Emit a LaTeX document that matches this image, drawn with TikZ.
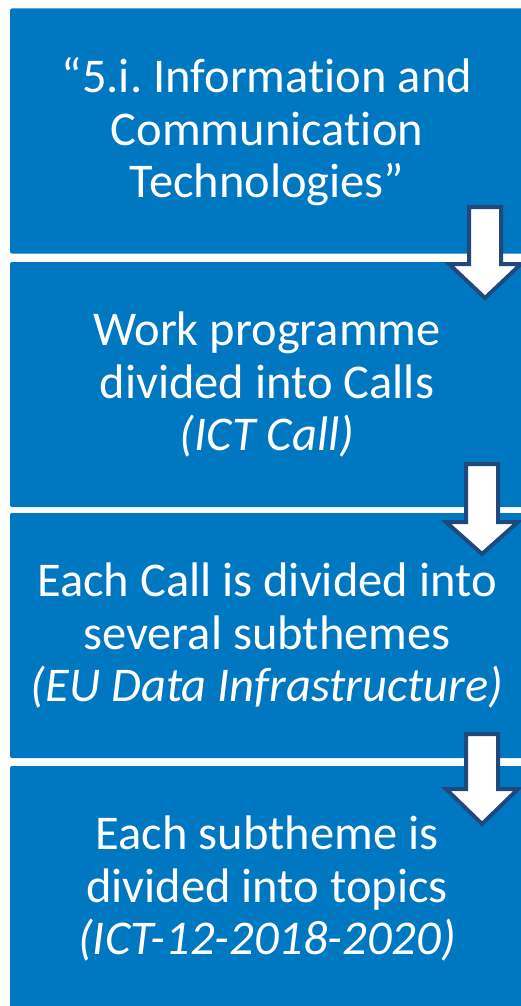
\documentclass[tikz,border=0pt]{standalone}
\usepackage{fontspec}
\setmainfont[Ligatures=NoCommon]{Carlito}
\frenchspacing
\definecolor{boxblue}{RGB}{0,119,193}
\definecolor{navy}{RGB}{31,73,125}
\tikzset{
  stagebox/.style={fill=boxblue, draw=none, rounded corners=2pt, minimum width=515pt, minimum height=245pt, inner sep=0pt},
  stagetext/.style={text=white, align=center, font=\fontsize{48.5pt}{52.5pt}\selectfont, inner sep=0pt},
  downarrow/.style={fill=white, draw=navy, line width=4pt, line join=miter}
}
\newcommand{\blockarrow}[5]{% name, cx, top, base, tip
  \draw[downarrow] (#2pt-16pt,-#3pt) -- (#2pt+16pt,-#3pt) -- (#2pt+16pt,-#4pt) -- (#2pt+36pt,-#4pt)
    -- (#2pt,-#5pt) -- (#2pt-36pt,-#4pt) -- (#2pt-16pt,-#4pt) -- cycle;
  \coordinate (#1) at (#2pt,-#5pt);
}
\begin{document}
\begin{tikzpicture}
\useasboundingbox (0,0) rectangle (521pt,-1006pt);
\clip (0,0) rectangle (521pt,-1006pt);
\node[stagebox] (b1) at (267.5pt,-131pt) {};
\node[stagebox] (b2) at (267.5pt,-384.5pt) {};
\node[stagebox] (b3) at (267.5pt,-635.5pt) {};
\node[stagebox] (b4) at (267.5pt,-888.5pt) {};
\node[stagetext] (t1) at (267pt,-132pt) {“5.i. Information and\\Communication\\Technologies”};
\node[stagetext] (t2) at (267pt,-384.5pt) {Work programme\\divided into Calls\\\textit{(ICT Call)}};
\node[stagetext] (t3) at (267pt,-635.5pt) {Each Call is divided into\\several subthemes\\\textit{(EU Data Infrastructure)}};
\node[stagetext] (t4) at (267pt,-888.5pt) {Each subtheme is\\divided into topics\\\textit{(ICT-12-2018-2020)}};
\blockarrow{a1}{485}{207}{264}{298}
\blockarrow{a2}{482}{464}{522}{554}
\blockarrow{a3}{482}{734}{789}{824}
\end{tikzpicture}
\end{document}
